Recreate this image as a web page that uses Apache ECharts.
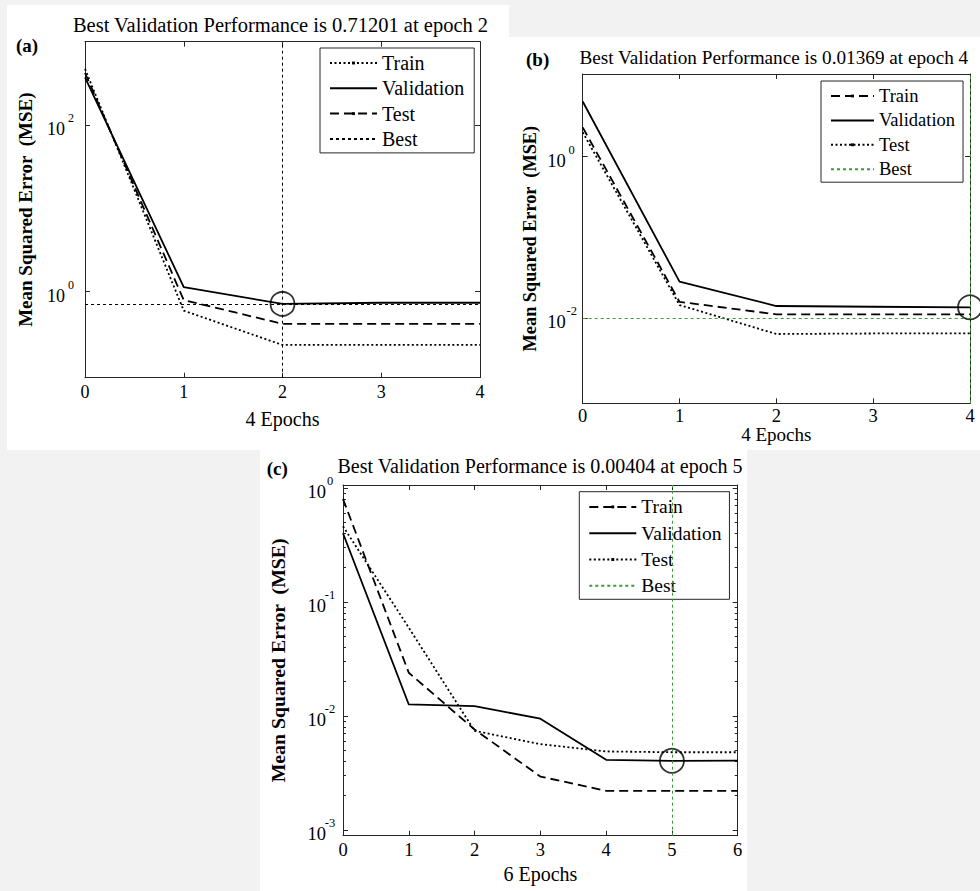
<!DOCTYPE html>
<html><head><meta charset="utf-8">
<script src="https://cdn.jsdelivr.net/npm/echarts@6/dist/echarts.min.js"></script>
<style>
html,body{margin:0;padding:0;background:#f2f2f2;width:980px;height:891px;overflow:hidden;}
.panel{position:absolute;background:#fff;}
</style></head><body>
<div id="pa" class="panel" style="left:7px;top:5px;width:502px;height:445px"></div>
<div id="pb" class="panel" style="left:509px;top:37px;width:471px;height:413px"></div>
<div id="pc" class="panel" style="left:260px;top:450px;width:487px;height:441px"></div>
<script>
// ---------- data ----------
const seriesNames = ['Train', 'Validation', 'Test', 'Best'];

// panel (a)
const epochsA = [0, 1, 2, 3, 4];
const trainA = [480, 0.59, 0.228, 0.228, 0.228];
const validA = [380, 1.13, 0.71201, 0.735, 0.735];
const testA  = [430, 0.79, 0.41, 0.41, 0.41];
const bestEpochA = 2;
const bestValueA = 0.71201;
const yTicksA = [1, 100];
const titleA = 'Best Validation Performance is 0.71201 at epoch 2';
const xNameA = '4 Epochs';

// panel (b)
const epochsB = [0, 1, 2, 3, 4];
const trainB = [2.3, 0.016, 0.0112, 0.0112, 0.0112];
const validB = [4.8, 0.0284, 0.0142, 0.0139, 0.01369];
const testB  = [2.0, 0.0146, 0.0064, 0.0065, 0.0065];
const bestEpochB = 4;
const bestValueB = 0.01369;
const yTicksB = [0.01, 1];
const titleB = 'Best Validation Performance is 0.01369 at epoch 4';
const xNameB = '4 Epochs';

// panel (c)
const epochsC = [0, 1, 2, 3, 4, 5, 6];
const trainC = [0.80, 0.0239, 0.0076, 0.00294, 0.0022, 0.0022, 0.0022];
const validC = [0.40, 0.0126, 0.0122, 0.00946, 0.00412, 0.00404, 0.00405];
const testC  = [0.46, 0.0594, 0.0074, 0.00565, 0.00488, 0.0048, 0.0048];
const bestEpochC = 5;
const bestValueC = 0.00404;
const yTicksC = [0.001, 0.01, 0.1, 1];
const yMinorTicksC = [0.002,0.003,0.004,0.005,0.006,0.007,0.008,0.009,
                      0.02,0.03,0.04,0.05,0.06,0.07,0.08,0.09,
                      0.2,0.3,0.4,0.5,0.6,0.7,0.8,0.9];
const titleC = 'Best Validation Performance is 0.00404 at epoch 5';
const xNameC = '6 Epochs';

const yName = 'Mean Squared Error  (MSE)';

// ---------- styles ----------
const FONT = 'Liberation Serif';
const DOT = 'path://M0,0L0,0M10,10L10,10M3.5,3.5L6.5,3.5L6.5,6.5L3.5,6.5Z';
const DASH = [9, 5];
const DOTTED = [2, 2.5];
const THIN = [3, 3];
const AX = '#262626';
const GREEN = '#3a9a3a';

function superLabel(v) {
  const e = Math.round(Math.log10(v));
  return '{b|10}{s|' + e + '}';
}

function build(id, c) {
  const chart = echarts.init(document.getElementById(id), null, {renderer: 'svg'});
  const xCommon = {
    type: 'value', min: 0, max: c.epochs[c.epochs.length - 1], interval: 1, gridIndex: 0,
    axisLine: {onZero: false, lineStyle: {color: AX, width: 1}},
    axisTick: {inside: true, length: 5, lineStyle: {color: AX, width: 1}},
    splitLine: {show: false}
  };
  const xAxis = [
    Object.assign({}, xCommon, {
      position: 'bottom', name: c.xName, nameLocation: 'middle', nameGap: c.xNameGap, nameMoveOverlap: false,
      nameTextStyle: {fontFamily: FONT, fontSize: c.xNameSize, color: '#000'},
      axisLabel: {fontFamily: FONT, fontSize: c.tickSize, color: '#000', margin: c.xLabelMargin}
    }),
    Object.assign({}, xCommon, {position: 'top', axisLabel: {show: false}})
  ];
  const yCommon = {
    type: 'log', logBase: 10, min: c.yMin, max: c.yMax, gridIndex: 0,
    axisLine: {onZero: false, lineStyle: {color: AX, width: 1}},
    splitLine: {show: false}
  };
  const rich = {
    b: {fontFamily: FONT, fontSize: c.tickSize, color: '#000', padding: [c.supShift, 0, 0, 0], verticalAlign: 'bottom'},
    s: {fontFamily: FONT, fontSize: c.supSize, color: '#000', width: c.supWidth, align: 'left', verticalAlign: 'top'}
  };
  const yAxis = [
    Object.assign({}, yCommon, {
      position: 'left', name: yName, nameLocation: 'middle', nameGap: c.yNameGap, nameRotate: 90, nameMoveOverlap: false,
      nameTextStyle: {fontFamily: FONT, fontWeight: 'bold', fontSize: c.yNameSize, color: '#000'},
      axisTick: {inside: true, length: 5, customValues: c.yTicks, lineStyle: {color: AX, width: 1}},
      axisLabel: {customValues: c.yTicks, formatter: superLabel, rich: rich, margin: c.yLabelMargin}
    }),
    Object.assign({}, yCommon, {
      position: 'right',
      axisTick: {inside: true, length: 5, customValues: c.yTicks, lineStyle: {color: AX, width: 1}},
      axisLabel: {show: false}
    })
  ];
  if (c.yMinor) {
    ['left', 'right'].forEach(function (pos) {
      yAxis.push(Object.assign({}, yCommon, {
        position: pos,
        axisLine: {show: false, onZero: false},
        axisTick: {inside: true, length: 3, customValues: c.yMinor, lineStyle: {color: AX, width: 1}},
        axisLabel: {show: false}
      }));
    });
  }
  const series = [{
    name: 'Best', type: 'line', data: [[c.bestEpoch, c.bestValue]], symbol: 'none',
    lineStyle: {color: c.bestColor, width: 1, type: THIN}, itemStyle: {color: c.bestColor}, z: 1,
    markLine: {
      silent: true, symbol: ['none', 'none'], label: {show: false}, animation: false,
      lineStyle: {color: c.bestColor, width: 1, type: THIN},
      emphasis: {disabled: true},
      data: [{xAxis: c.bestEpoch}, {yAxis: c.bestValue}]
    }
  }];
  c.lines.forEach(function (L) {
    series.push({
      name: L.name, type: 'line', data: c.epochs.map(function (e, i) { return [e, L.values[i]]; }),
      symbol: L.marker ? DOT : 'none', showSymbol: false, symbolSize: 6,
      lineStyle: {color: '#000', width: 1.8, type: L.dash}, itemStyle: {color: '#000'}, z: 3
    });
  });
  series.push({
    name: 'bestPoint', type: 'scatter', data: [[c.bestEpoch, c.bestValue]], symbol: 'circle', symbolSize: 24,
    itemStyle: {color: 'rgba(0,0,0,0)', borderColor: '#000', borderWidth: 1.8}, z: 4, silent: true
  });
  const legendData = seriesNames.map(function (n) {
    return (n === 'Validation' || n === 'Best') ? {name: n, itemStyle: {opacity: 0}} : {name: n};
  });
  chart.setOption({
    animation: false,
    backgroundColor: '#fff',
    grid: c.grid,
    xAxis: xAxis,
    yAxis: yAxis,
    legend: {
      data: legendData, orient: 'vertical', left: c.legend.left, top: c.legend.top,
      padding: c.legend.padding, itemGap: c.legend.gap, itemWidth: c.legend.iw, itemHeight: 12,
      backgroundColor: '#fff', borderColor: AX, borderWidth: 1, borderRadius: 0,
      selectedMode: false,
      textStyle: {fontFamily: FONT, fontSize: c.legend.fs, color: '#000'}
    },
    graphic: [
      {type: 'text', x: c.titleX, y: c.titleY, style: {text: c.title, fill: '#000', font: c.titleSize + 'px "Liberation Serif"', align: 'center', verticalAlign: 'middle'}},
      {type: 'text', x: c.tagX, y: c.tagY, style: {text: c.tag, fill: '#000', font: 'bold 19px "Liberation Serif"', align: 'left', verticalAlign: 'middle'}}
    ],
    series: series
  });
}

build('pa', {
  epochs: epochsA, bestEpoch: bestEpochA, bestValue: bestValueA, yTicks: yTicksA,
  title: titleA, xName: xNameA, tag: '(a)', bestColor: '#000',
  lines: [
    {name: 'Train', values: trainA, dash: DOTTED, marker: true},
    {name: 'Validation', values: validA, dash: 'solid', marker: false},
    {name: 'Test', values: testA, dash: DASH, marker: true}
  ],
  grid: {left: 78, top: 36.7, width: 395, height: 336},
  yMin: 0.092, yMax: 1020,
  tickSize: 18, supSize: 12, supShift: 8, supWidth: 12, yLabelMargin: 8, xLabelMargin: 5,
  xNameGap: 31, xNameSize: 20, yNameGap: 50, yNameSize: 19,
  titleX: 273.5, titleY: 20, titleSize: 20.5, tagX: 9, tagY: 40.7,
  legend: {left: 313, top: 43, padding: [5, 10, 4, 9], gap: 5.3, iw: 47, fs: 20}
});

build('pb', {
  epochs: epochsB, bestEpoch: bestEpochB, bestValue: bestValueB, yTicks: yTicksB,
  title: titleB, xName: xNameB, tag: '(b)', bestColor: GREEN,
  lines: [
    {name: 'Train', values: trainB, dash: DASH, marker: true},
    {name: 'Validation', values: validB, dash: 'solid', marker: false},
    {name: 'Test', values: testB, dash: DOTTED, marker: true}
  ],
  grid: {left: 73.7, top: 37, width: 387.3, height: 329.3},
  yMin: 0.00089, yMax: 10.5,
  tickSize: 18.5, supSize: 12.5, supShift: 8, supWidth: 12, yLabelMargin: 5, xLabelMargin: 3,
  xNameGap: 22, xNameSize: 19, yNameGap: 44, yNameSize: 18.3,
  titleX: 264.8, titleY: 20.3, titleSize: 19.2, tagX: 17, tagY: 22,
  legend: {left: 312, top: 44, padding: [5.5, 8, 3.5, 9], gap: 5.4, iw: 43, fs: 18.5}
});

build('pc', {
  epochs: epochsC, bestEpoch: bestEpochC, bestValue: bestValueC, yTicks: yTicksC, yMinor: yMinorTicksC,
  title: titleC, xName: xNameC, tag: '(c)', bestColor: GREEN,
  lines: [
    {name: 'Train', values: trainC, dash: DASH, marker: true},
    {name: 'Validation', values: validC, dash: 'solid', marker: false},
    {name: 'Test', values: testC, dash: DOTTED, marker: true}
  ],
  grid: {left: 81.7, top: 35, width: 396, height: 350.7},
  yMin: 0.00089, yMax: 1.06,
  tickSize: 18.5, supSize: 12.5, supShift: 8, supWidth: 8, yLabelMargin: 9, xLabelMargin: 5,
  xNameGap: 28.5, xNameSize: 20, yNameGap: 55, yNameSize: 19.8,
  titleX: 280, titleY: 15.5, titleSize: 20, tagX: 6.7, tagY: 18,
  legend: {left: 319.3, top: 41.7, padding: [5.2, 8, 3.5, 9], gap: 6.3, iw: 47, fs: 19.5}
});
</script>
</body></html>
